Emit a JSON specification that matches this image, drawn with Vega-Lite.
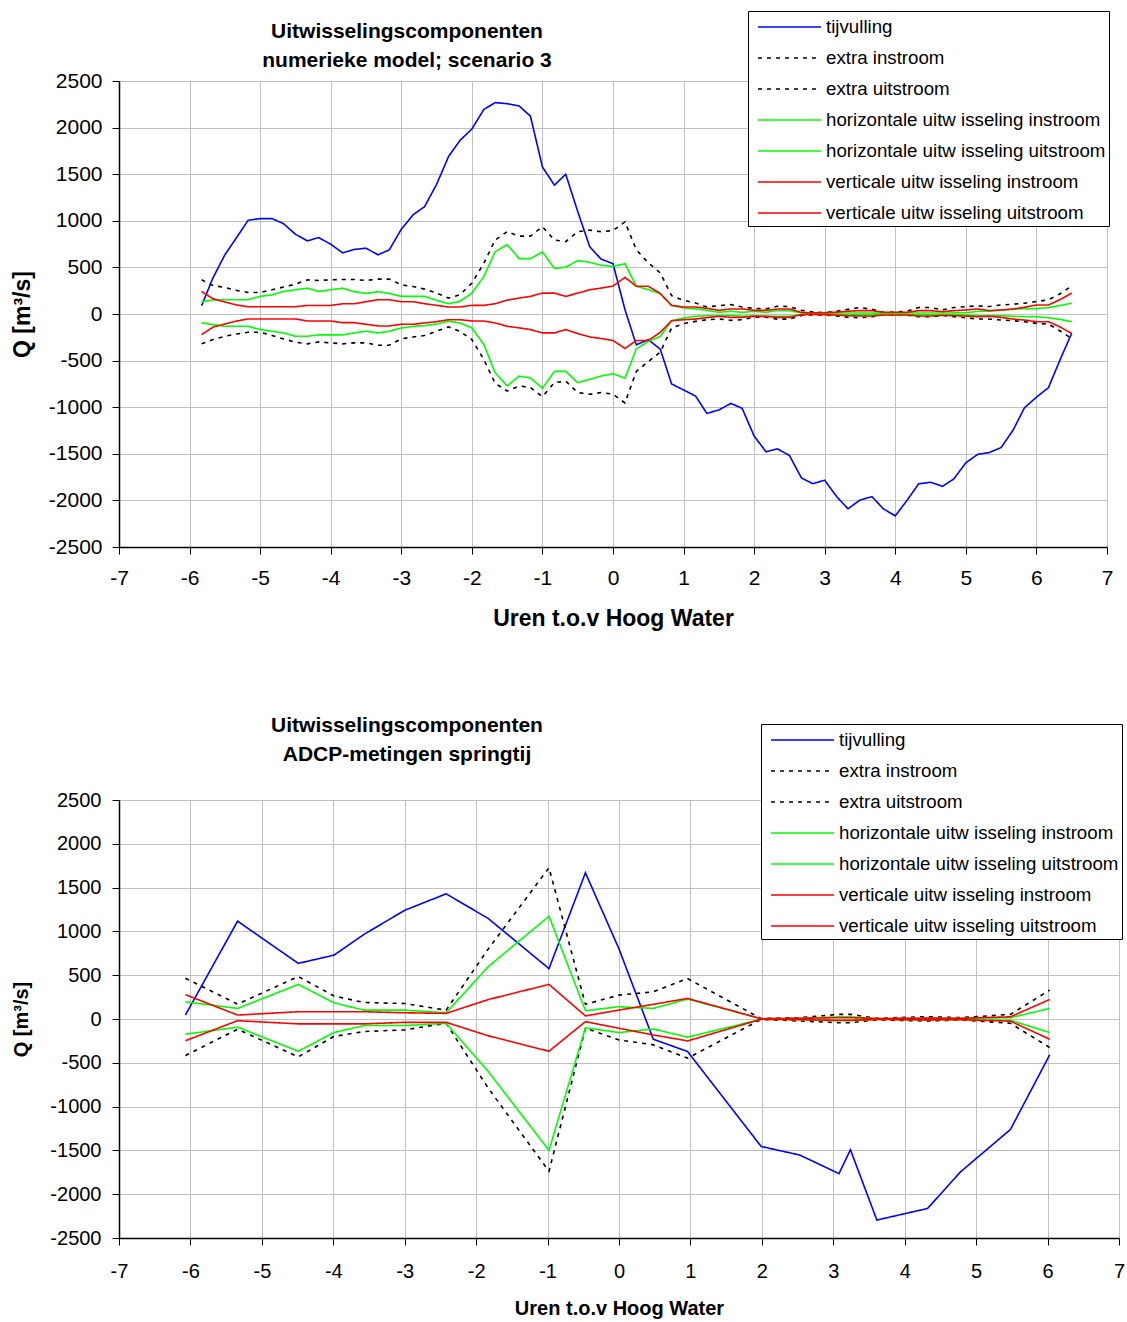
{
  "$schema": "https://vega.github.io/schema/vega-lite/v6.json",
  "background": "white",
  "padding": {"left": 11, "top": 10, "right": 2, "bottom": 2},
  "spacing": 84,
  "config": {
    "font": "Liberation Sans",
    "view": {"stroke": null},
    "axis": {
      "gridColor": "#c0c0c0",
      "gridWidth": 1,
      "domainColor": "#000000",
      "domainWidth": 1.5,
      "tickColor": "#000000",
      "tickSize": 7,
      "labelColor": "#000000",
      "titleColor": "#000000",
      "labelFont": "Liberation Sans",
      "titleFont": "Liberation Sans",
      "titleFontWeight": "bold",
      "labelFlush": false,
      "labelOverlap": false,
      "labelBound": false,
      "labelExpr": "toString(datum.value)"
    },
    "legend": {
      "orient": "none",
      "title": null,
      "strokeColor": "#000000",
      "fillColor": "#ffffff",
      "padding": 3,
      "labelFont": "Liberation Sans",
      "labelFontSize": 18.7,
      "labelColor": "#000000",
      "labelLimit": 420,
      "symbolType": "M-0.5,0H4.75",
      "symbolSize": 576,
      "symbolStrokeWidth": 1.6,
      "labelOffset": 49,
      "rowPadding": 8
    },
    "title": {"font": "Liberation Sans", "fontWeight": "bold", "color": "#000000", "baseline": "bottom"}
  },
  "datasets": {
    "reeksen": [
      {"kort": "tij", "naam": "tijvulling"},
      {"kort": "ei", "naam": "extra instroom"},
      {"kort": "eu", "naam": "extra uitstroom"},
      {"kort": "hi", "naam": "horizontale uitw isseling instroom"},
      {"kort": "hu", "naam": "horizontale uitw isseling uitstroom"},
      {"kort": "vi", "naam": "verticale uitw isseling instroom"},
      {"kort": "vu", "naam": "verticale uitw isseling uitstroom"}
    ],
    "model": [
      {"uur": -5.83, "tij": 89, "ei": 367, "eu": -320, "hi": 132, "hu": -93, "vi": 242, "vu": -221},
      {"uur": -5.67, "tij": 385, "ei": 306, "eu": -274, "hi": 150, "hu": -114, "vi": 164, "vu": -142},
      {"uur": -5.5, "tij": 635, "ei": 285, "eu": -239, "hi": 153, "hu": -132, "vi": 128, "vu": -107},
      {"uur": -5.33, "tij": 824, "ei": 253, "eu": -214, "hi": 153, "hu": -132, "vi": 96, "vu": -75},
      {"uur": -5.17, "tij": 1006, "ei": 231, "eu": -196, "hi": 153, "hu": -132, "vi": 78, "vu": -53},
      {"uur": -5.0, "tij": 1023, "ei": 231, "eu": -196, "hi": 189, "hu": -167, "vi": 78, "vu": -53},
      {"uur": -4.83, "tij": 1023, "ei": 260, "eu": -231, "hi": 206, "hu": -185, "vi": 78, "vu": -53},
      {"uur": -4.67, "tij": 970, "ei": 289, "eu": -267, "hi": 242, "hu": -203, "vi": 78, "vu": -53},
      {"uur": -4.5, "tij": 856, "ei": 320, "eu": -302, "hi": 260, "hu": -239, "vi": 78, "vu": -53},
      {"uur": -4.33, "tij": 785, "ei": 366, "eu": -320, "hi": 277, "hu": -239, "vi": 92, "vu": -75},
      {"uur": -4.17, "tij": 820, "ei": 360, "eu": -299, "hi": 242, "hu": -224, "vi": 92, "vu": -75},
      {"uur": -4.0, "tij": 749, "ei": 367, "eu": -310, "hi": 260, "hu": -224, "vi": 92, "vu": -75},
      {"uur": -3.83, "tij": 656, "ei": 370, "eu": -320, "hi": 277, "hu": -224, "vi": 110, "vu": -93},
      {"uur": -3.67, "tij": 692, "ei": 370, "eu": -310, "hi": 239, "hu": -203, "vi": 110, "vu": -93},
      {"uur": -3.5, "tij": 706, "ei": 360, "eu": -310, "hi": 221, "hu": -185, "vi": 132, "vu": -110},
      {"uur": -3.33, "tij": 635, "ei": 374, "eu": -335, "hi": 239, "hu": -203, "vi": 153, "vu": -128},
      {"uur": -3.17, "tij": 688, "ei": 374, "eu": -335, "hi": 221, "hu": -185, "vi": 153, "vu": -128},
      {"uur": -3.0, "tij": 909, "ei": 313, "eu": -267, "hi": 189, "hu": -150, "vi": 132, "vu": -110},
      {"uur": -2.83, "tij": 1066, "ei": 295, "eu": -246, "hi": 189, "hu": -132, "vi": 132, "vu": -110},
      {"uur": -2.67, "tij": 1152, "ei": 267, "eu": -231, "hi": 189, "hu": -125, "vi": 110, "vu": -96},
      {"uur": -2.5, "tij": 1391, "ei": 224, "eu": -185, "hi": 146, "hu": -107, "vi": 93, "vu": -82},
      {"uur": -2.33, "tij": 1690, "ei": 171, "eu": -139, "hi": 110, "hu": -78, "vi": 75, "vu": -61},
      {"uur": -2.17, "tij": 1861, "ei": 206, "eu": -185, "hi": 135, "hu": -96, "vi": 75, "vu": -61},
      {"uur": -2.0, "tij": 1985, "ei": 331, "eu": -274, "hi": 224, "hu": -149, "vi": 93, "vu": -75},
      {"uur": -1.83, "tij": 2195, "ei": 544, "eu": -488, "hi": 402, "hu": -327, "vi": 93, "vu": -75},
      {"uur": -1.67, "tij": 2268, "ei": 794, "eu": -744, "hi": 669, "hu": -630, "vi": 110, "vu": -96},
      {"uur": -1.5, "tij": 2257, "ei": 883, "eu": -826, "hi": 744, "hu": -772, "vi": 149, "vu": -132},
      {"uur": -1.33, "tij": 2232, "ei": 836, "eu": -772, "hi": 594, "hu": -666, "vi": 171, "vu": -149},
      {"uur": -1.17, "tij": 2123, "ei": 836, "eu": -790, "hi": 594, "hu": -687, "vi": 189, "vu": -167},
      {"uur": -1.0, "tij": 1578, "ei": 936, "eu": -886, "hi": 666, "hu": -797, "vi": 224, "vu": -203},
      {"uur": -0.83, "tij": 1382, "ei": 794, "eu": -737, "hi": 488, "hu": -616, "vi": 224, "vu": -203},
      {"uur": -0.67, "tij": 1500, "ei": 776, "eu": -719, "hi": 502, "hu": -616, "vi": 189, "vu": -167},
      {"uur": -0.5, "tij": 1100, "ei": 883, "eu": -843, "hi": 573, "hu": -737, "vi": 224, "vu": -210},
      {"uur": -0.33, "tij": 722, "ei": 900, "eu": -861, "hi": 555, "hu": -701, "vi": 260, "vu": -246},
      {"uur": -0.17, "tij": 590, "ei": 883, "eu": -843, "hi": 523, "hu": -666, "vi": 278, "vu": -263},
      {"uur": 0.0, "tij": 540, "ei": 895, "eu": -860, "hi": 510, "hu": -640, "vi": 300, "vu": -284},
      {"uur": 0.17, "tij": 46, "ei": 988, "eu": -955, "hi": 540, "hu": -690, "vi": 393, "vu": -370},
      {"uur": 0.33, "tij": -330, "ei": 690, "eu": -617, "hi": 298, "hu": -373, "vi": 298, "vu": -284},
      {"uur": 0.5, "tij": -276, "ei": 549, "eu": -510, "hi": 262, "hu": -294, "vi": 298, "vu": -284},
      {"uur": 0.67, "tij": -377, "ei": 440, "eu": -409, "hi": 219, "hu": -240, "vi": 219, "vu": -197},
      {"uur": 0.83, "tij": -750, "ei": 197, "eu": -151, "hi": 90, "hu": -72, "vi": 93, "vu": -72},
      {"uur": 1.0, "tij": -815, "ei": 147, "eu": -104, "hi": 65, "hu": -43, "vi": 75, "vu": -61},
      {"uur": 1.17, "tij": -880, "ei": 118, "eu": -79, "hi": 54, "hu": -25, "vi": 75, "vu": -54},
      {"uur": 1.33, "tij": -1066, "ei": 75, "eu": -61, "hi": 39, "hu": -18, "vi": 61, "vu": -39},
      {"uur": 1.5, "tij": -1030, "ei": 90, "eu": -54, "hi": 18, "hu": -18, "vi": 39, "vu": -25},
      {"uur": 1.67, "tij": -959, "ei": 100, "eu": -68, "hi": 29, "hu": -14, "vi": 54, "vu": -36},
      {"uur": 1.83, "tij": -1012, "ei": 75, "eu": -61, "hi": 18, "hu": -25, "vi": 54, "vu": -36},
      {"uur": 2.0, "tij": -1310, "ei": 60, "eu": -35, "hi": 29, "hu": -18, "vi": 39, "vu": -25},
      {"uur": 2.17, "tij": -1479, "ei": 55, "eu": -35, "hi": 18, "hu": -25, "vi": 39, "vu": -25},
      {"uur": 2.33, "tij": -1447, "ei": 83, "eu": -55, "hi": 39, "hu": -25, "vi": 54, "vu": -36},
      {"uur": 2.5, "tij": -1518, "ei": 80, "eu": -55, "hi": 36, "hu": -25, "vi": 54, "vu": -36},
      {"uur": 2.67, "tij": -1759, "ei": 40, "eu": -15, "hi": 11, "hu": -7, "vi": 18, "vu": -7},
      {"uur": 2.83, "tij": -1820, "ei": 20, "eu": -10, "hi": 8, "hu": -5, "vi": 11, "vu": -5},
      {"uur": 3.0, "tij": -1784, "ei": 15, "eu": -10, "hi": 8, "hu": -5, "vi": 14, "vu": -8},
      {"uur": 3.17, "tij": -1960, "ei": 30, "eu": -20, "hi": 10, "hu": -8, "vi": 20, "vu": -12},
      {"uur": 3.33, "tij": -2090, "ei": 50, "eu": -35, "hi": 10, "hu": -8, "vi": 30, "vu": -18},
      {"uur": 3.5, "tij": -1996, "ei": 69, "eu": -40, "hi": 10, "hu": -8, "vi": 36, "vu": -22},
      {"uur": 3.67, "tij": -1960, "ei": 50, "eu": -30, "hi": 10, "hu": -8, "vi": 36, "vu": -22},
      {"uur": 3.83, "tij": -2090, "ei": 18, "eu": -8, "hi": 8, "hu": -5, "vi": 18, "vu": -10},
      {"uur": 4.0, "tij": -2166, "ei": 20, "eu": -8, "hi": 8, "hu": -5, "vi": 18, "vu": -10},
      {"uur": 4.17, "tij": -1996, "ei": 30, "eu": -12, "hi": 10, "hu": -6, "vi": 18, "vu": -10},
      {"uur": 4.33, "tij": -1823, "ei": 69, "eu": -29, "hi": 10, "hu": -8, "vi": 36, "vu": -22},
      {"uur": 4.5, "tij": -1805, "ei": 69, "eu": -29, "hi": 10, "hu": -8, "vi": 36, "vu": -22},
      {"uur": 4.67, "tij": -1849, "ei": 45, "eu": -15, "hi": 10, "hu": -8, "vi": 25, "vu": -15},
      {"uur": 4.83, "tij": -1769, "ei": 69, "eu": -29, "hi": 12, "hu": -8, "vi": 36, "vu": -18},
      {"uur": 5.0, "tij": -1596, "ei": 79, "eu": -40, "hi": 14, "hu": -11, "vi": 43, "vu": -22},
      {"uur": 5.17, "tij": -1505, "ei": 87, "eu": -54, "hi": 29, "hu": -18, "vi": 54, "vu": -29},
      {"uur": 5.33, "tij": -1487, "ei": 80, "eu": -54, "hi": 30, "hu": -18, "vi": 36, "vu": -25},
      {"uur": 5.5, "tij": -1433, "ei": 97, "eu": -65, "hi": 43, "hu": -18, "vi": 43, "vu": -36},
      {"uur": 5.67, "tij": -1245, "ei": 105, "eu": -72, "hi": 50, "hu": -25, "vi": 54, "vu": -54},
      {"uur": 5.83, "tij": -1007, "ei": 116, "eu": -83, "hi": 58, "hu": -29, "vi": 72, "vu": -65},
      {"uur": 6.0, "tij": -892, "ei": 134, "eu": -101, "hi": 58, "hu": -29, "vi": 97, "vu": -83},
      {"uur": 6.17, "tij": -791, "ei": 152, "eu": -108, "hi": 69, "hu": -40, "vi": 97, "vu": -83},
      {"uur": 6.33, "tij": -500, "ei": 215, "eu": -180, "hi": 90, "hu": -58, "vi": 152, "vu": -137},
      {"uur": 6.5, "tij": -206, "ei": 300, "eu": -264, "hi": 116, "hu": -83, "vi": 224, "vu": -209}
    ],
    "adcp": [
      {"uur": -6.07, "tij": 45, "ei": 466, "eu": -417, "hi": 195, "hu": -173, "vi": 278, "vu": -248},
      {"uur": -5.34, "tij": 1117, "ei": 169, "eu": -117, "hi": 120, "hu": -94, "vi": 45, "vu": -19},
      {"uur": -4.49, "tij": 635, "ei": 485, "eu": -432, "hi": 395, "hu": -368, "vi": 83, "vu": -56},
      {"uur": -3.99, "tij": 729, "ei": 263, "eu": -199, "hi": 184, "hu": -154, "vi": 83, "vu": -56},
      {"uur": -3.57, "tij": 966, "ei": 188, "eu": -143, "hi": 101, "hu": -75, "vi": 83, "vu": -56},
      {"uur": -3.0, "tij": 1241, "ei": 177, "eu": -124, "hi": 101, "hu": -75, "vi": 71, "vu": -38},
      {"uur": -2.42, "tij": 1429, "ei": 101, "eu": -49, "hi": 71, "hu": -49, "vi": 64, "vu": -38},
      {"uur": -1.83, "tij": 1147, "ei": 800, "eu": -790, "hi": 598, "hu": -600, "vi": 222, "vu": -192},
      {"uur": -0.98, "tij": 575, "ei": 1726, "eu": -1738, "hi": 1173, "hu": -1500, "vi": 395, "vu": -368},
      {"uur": -0.47, "tij": 1669, "ei": 168, "eu": -105, "hi": 95, "hu": -100, "vi": 35, "vu": -30},
      {"uur": 0.0, "tij": 800, "ei": 273, "eu": -239, "hi": 140, "hu": -155, "vi": 102, "vu": -106},
      {"uur": 0.48, "tij": -231, "ei": 310, "eu": -295, "hi": 121, "hu": -114, "vi": 167, "vu": -182},
      {"uur": 0.96, "tij": -371, "ei": 462, "eu": -447, "hi": 227, "hu": -208, "vi": 235, "vu": -250},
      {"uur": 1.99, "tij": -1455, "ei": 5, "eu": -5, "hi": 3, "hu": -3, "vi": 3, "vu": -3},
      {"uur": 2.53, "tij": -1553, "ei": 15, "eu": -23, "hi": 8, "hu": -8, "vi": 8, "vu": -8},
      {"uur": 3.08, "tij": -1765, "ei": 53, "eu": -42, "hi": 25, "hu": -20, "vi": 15, "vu": -15},
      {"uur": 3.24, "tij": -1492, "ei": 53, "eu": -42, "hi": 25, "hu": -20, "vi": 15, "vu": -15},
      {"uur": 3.61, "tij": -2295, "ei": 8, "eu": -11, "hi": 5, "hu": -5, "vi": 5, "vu": -5},
      {"uur": 4.32, "tij": -2163, "ei": 27, "eu": -23, "hi": 8, "hu": -8, "vi": 10, "vu": -10},
      {"uur": 4.78, "tij": -1746, "ei": 15, "eu": -11, "hi": 8, "hu": -8, "vi": 8, "vu": -8},
      {"uur": 5.48, "tij": -1261, "ei": 53, "eu": -49, "hi": 15, "hu": -15, "vi": 25, "vu": -25},
      {"uur": 6.03, "tij": -409, "ei": 330, "eu": -326, "hi": 121, "hu": -155, "vi": 223, "vu": -231}
    ]
  },
  "vconcat": [
    {
      "data": {"name": "model"},
      "transform": [
        {"fold": ["tij", "ei", "eu", "hi", "hu", "vi", "vu"], "as": ["kort", "Q"]},
        {"lookup": "kort", "from": {"data": {"name": "reeksen"}, "key": "kort", "fields": ["naam"]}}
      ],
      "width": 988,
      "height": 466,
      "title": {
        "text": ["Uitwisselingscomponenten", "numerieke model; scenario 3"],
        "fontSize": 21,
        "lineHeight": 29,
        "dx": -206,
        "offset": -60
      },
      "mark": {"type": "line", "strokeWidth": 1.6},
      "encoding": {
        "x": {
          "field": "uur", "type": "quantitative",
          "scale": {"domain": [-7, 7], "nice": false, "zero": false},
          "axis": {
            "title": "Uren t.o.v Hoog Water",
            "values": [-7, -6, -5, -4, -3, -2, -1, 0, 1, 2, 3, 4, 5, 6, 7],
            "labelFontSize": 21, "labelPadding": 13,
            "titleFontSize": 23, "titlePadding": 19
          }
        },
        "y": {
          "field": "Q", "type": "quantitative",
          "scale": {"domain": [-2500, 2500], "nice": false},
          "axis": {
            "title": "Q [m³/s]",
            "values": [-2500, -2000, -1500, -1000, -500, 0, 500, 1000, 1500, 2000, 2500],
            "labelFontSize": 21, "labelPadding": 10,
            "titleFontSize": 23, "titlePadding": 14
          }
        },
        "color": {
          "field": "naam", "type": "nominal",
          "scale": {
            "domain": ["tijvulling", "extra instroom", "extra uitstroom", "horizontale uitw isseling instroom", "horizontale uitw isseling uitstroom", "verticale uitw isseling instroom", "verticale uitw isseling uitstroom"],
            "range": ["#0000ff", "#000000", "#000000", "#00ff00", "#00ff00", "#ff0000", "#ff0000"]
          },
          "legend": {"legendX": 629, "legendY": -70}
        },
        "strokeDash": {
          "field": "naam", "type": "nominal",
          "scale": {
            "domain": ["tijvulling", "extra instroom", "extra uitstroom", "horizontale uitw isseling instroom", "horizontale uitw isseling uitstroom", "verticale uitw isseling instroom", "verticale uitw isseling uitstroom"],
            "range": [[1, 0], [4, 5], [4, 5], [1, 0], [1, 0], [1, 0], [1, 0]]
          },
          "legend": {"legendX": 629, "legendY": -70}
        }
      }
    },
    {
      "data": {"name": "adcp"},
      "transform": [
        {"fold": ["tij", "ei", "eu", "hi", "hu", "vi", "vu"], "as": ["kort", "Q"]},
        {"lookup": "kort", "from": {"data": {"name": "reeksen"}, "key": "kort", "fields": ["naam"]}}
      ],
      "width": 1000,
      "height": 438,
      "title": {
        "text": ["Uitwisselingscomponenten", "ADCP-metingen springtij"],
        "fontSize": 21,
        "lineHeight": 29,
        "dx": -212,
        "offset": -41
      },
      "mark": {"type": "line", "strokeWidth": 1.6},
      "encoding": {
        "x": {
          "field": "uur", "type": "quantitative",
          "scale": {"domain": [-7, 7], "nice": false, "zero": false},
          "axis": {
            "title": "Uren t.o.v Hoog Water",
            "values": [-7, -6, -5, -4, -3, -2, -1, 0, 1, 2, 3, 4, 5, 6, 7],
            "labelFontSize": 20, "labelPadding": 16,
            "titleFontSize": 20, "titlePadding": 17
          }
        },
        "y": {
          "field": "Q", "type": "quantitative",
          "scale": {"domain": [-2500, 2500], "nice": false},
          "axis": {
            "title": "Q [m³/s]",
            "values": [-2500, -2000, -1500, -1000, -500, 0, 500, 1000, 1500, 2000, 2500],
            "labelFontSize": 20, "labelPadding": 11,
            "titleFontSize": 20, "titlePadding": 18
          }
        },
        "color": {
          "field": "naam", "type": "nominal",
          "scale": {
            "domain": ["tijvulling", "extra instroom", "extra uitstroom", "horizontale uitw isseling instroom", "horizontale uitw isseling uitstroom", "verticale uitw isseling instroom", "verticale uitw isseling uitstroom"],
            "range": ["#0000ff", "#000000", "#000000", "#00ff00", "#00ff00", "#ff0000", "#ff0000"]
          },
          "legend": {"legendX": 642, "legendY": -76}
        },
        "strokeDash": {
          "field": "naam", "type": "nominal",
          "scale": {
            "domain": ["tijvulling", "extra instroom", "extra uitstroom", "horizontale uitw isseling instroom", "horizontale uitw isseling uitstroom", "verticale uitw isseling instroom", "verticale uitw isseling uitstroom"],
            "range": [[1, 0], [4, 5], [4, 5], [1, 0], [1, 0], [1, 0], [1, 0]]
          },
          "legend": {"legendX": 642, "legendY": -76}
        }
      }
    }
  ],
  "resolve": {"scale": {"color": "independent", "strokeDash": "independent"}, "legend": {"color": "independent", "strokeDash": "independent"}}
}
